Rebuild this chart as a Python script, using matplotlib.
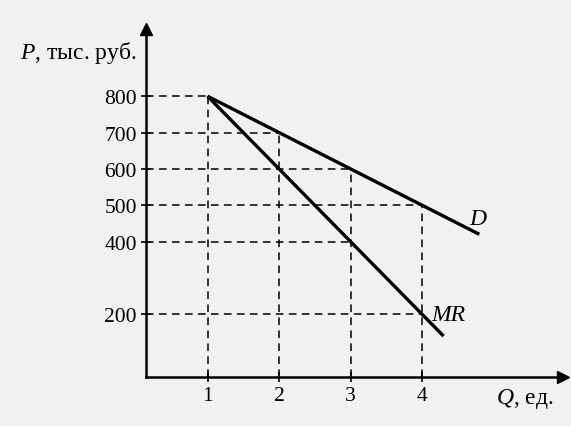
import matplotlib.pyplot as plt

plt.rcParams['font.family'] = ['Liberation Serif', 'DejaVu Serif']
plt.rcParams['mathtext.fontset'] = 'custom'
plt.rcParams['mathtext.rm'] = 'Liberation Serif'
plt.rcParams['mathtext.it'] = 'Liberation Serif:italic'

# demand and marginal revenue
q_demand = [1, 2, 3, 4, 4.8]
p_demand = [800, 700, 600, 500, 420]
q_mr = [1, 2, 3, 4, 4.3]
p_mr = [800, 600, 400, 200, 140]

x_ticks = [1, 2, 3, 4]
y_ticks = [200, 400, 500, 600, 700, 800]

# dashed guides: (q, p) points projected to both axes
guide_points = [(1, 800), (2, 700), (3, 600), (4, 500), (3, 400), (4, 200)]

fig = plt.figure(figsize=(5.71, 4.27), dpi=100)
fig.patch.set_facecolor('#f1f1f1')
ax = fig.add_axes([0.2557, 0.1148, 0.7303, 0.815])
ax.set_facecolor('none')

x_min, x_max = 0.14, 5.97
y_min, y_max = 27.5, 985
ax.set_xlim(x_min, x_max)
ax.set_ylim(y_min, y_max)

for q, p in guide_points:
    ax.plot([x_min, q], [p, p], color='black', lw=1.1, ls=(0, (5, 3.5)))
for q, p in guide_points[:4]:
    ax.plot([q, q], [y_min, p], color='black', lw=1.1, ls=(0, (5, 3.5)))

ax.plot(q_demand, p_demand, color='black', lw=2.4, solid_capstyle='butt')
ax.plot(q_mr, p_mr, color='black', lw=2.4, solid_capstyle='butt')

ax.text(4.66, 448, 'D', style='italic', fontsize=17)
ax.text(4.13, 185, 'MR', style='italic', fontsize=17)

for side in ['top', 'right']:
    ax.spines[side].set_visible(False)
ax.spines['left'].set_linewidth(1.8)
ax.spines['bottom'].set_linewidth(1.8)

# axis arrows
ax.plot(1, 0, '>', color='black', markersize=9, transform=ax.transAxes, clip_on=False)
ax.plot(0, 1, '^', color='black', markersize=9, transform=ax.transAxes, clip_on=False)

ax.set_xticks(x_ticks)
ax.set_yticks(y_ticks)
ax.tick_params(direction='inout', length=7, width=1.2, labelsize=15.5, pad=3)

fig.text(0.035, 0.862, r'$P$, тыс. руб.', fontsize=17)
fig.text(0.868, 0.055, r'$Q$, ед.', fontsize=17)

fig.savefig('out.png', dpi=100, facecolor=fig.get_facecolor())
